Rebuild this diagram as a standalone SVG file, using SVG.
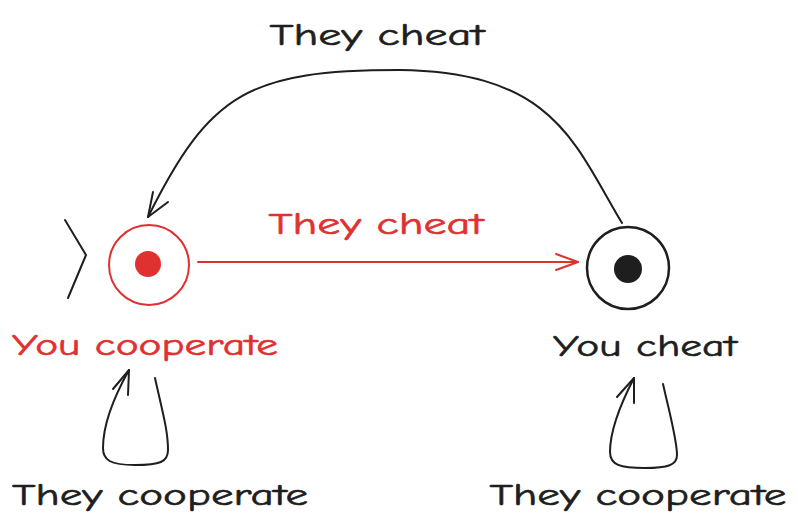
<svg xmlns="http://www.w3.org/2000/svg" width="798" height="529" viewBox="0 0 798 529">
  <style>
    .lbl { font-family: "Comic Neue", "Open Sans", "Liberation Sans", sans-serif; font-size: 31px; text-anchor: middle; stroke-width: 0.6px; }
    .red { fill: #e03131; stroke: #e03131; }
    .ink { fill: #1e1e1e; stroke: #1e1e1e; }
    .edge { fill: none; stroke-width: 2; stroke-linecap: round; stroke-linejoin: round; }
  </style>
  <rect width="798" height="529" fill="#ffffff"/>

  <!-- start marker -->
  <g id="start">
    <polyline class="edge" stroke="#1e1e1e" stroke-width="3" points="65,220 86,255 68,298"/>
  </g>

  <!-- state: you cooperate -->
  <g id="cooperate">
    <circle cx="149" cy="265" r="40" fill="none" stroke="#e03131" stroke-width="2"/>
    <circle cx="148" cy="264" r="13" fill="#e03131"/>
    <text class="lbl red" x="145" y="355" textLength="266" lengthAdjust="spacingAndGlyphs">You cooperate</text>
  </g>

  <!-- state: you cheat -->
  <g id="cheat">
    <circle cx="628" cy="268" r="41" fill="none" stroke="#1e1e1e" stroke-width="2.5"/>
    <circle cx="628" cy="269" r="14" fill="#1e1e1e"/>
    <text class="lbl ink" x="645" y="356" textLength="184" lengthAdjust="spacingAndGlyphs">You cheat</text>
  </g>

  <g id="connectors">
    <!-- cooperate -> cheat -->
    <path class="edge" stroke="#e03131" d="M198,262 L578,262"/>
    <path class="edge" stroke="#e03131" d="M556,254 L578,262 L556,270"/>
    <text class="lbl red" x="376" y="234" textLength="215" lengthAdjust="spacingAndGlyphs">They cheat</text>

    <!-- cheat -> cooperate -->
    <path class="edge" stroke="#1e1e1e" d="M622,223 C575,145 555,72 400,70 C250,70 210,92 148,217"/>
    <path class="edge" stroke="#1e1e1e" d="M153,192 L148,217 L168,202"/>
    <text class="lbl ink" x="377" y="45" textLength="215" lengthAdjust="spacingAndGlyphs">They cheat</text>

    <!-- self loop on cooperate -->
    <path class="edge" stroke="#1e1e1e" stroke-width="2.5" d="M155,378 C162,410 168,430 168,450 C168,462 160,465 135,465 C110,465 103,460 103,448 C103,425 115,395 129,370"/>
    <path class="edge" stroke="#1e1e1e" stroke-width="2.5" d="M113,389 L129,370 L128,395"/>
    <text class="lbl ink" x="160" y="505" textLength="296" lengthAdjust="spacingAndGlyphs">They cooperate</text>

    <!-- self loop on cheat -->
    <path class="edge" stroke="#1e1e1e" stroke-width="2.5" d="M663,384 C670,415 677,440 677,455 C677,465 668,468 645,468 C620,468 610,465 610,452 C610,430 620,405 634,378"/>
    <path class="edge" stroke="#1e1e1e" stroke-width="2.5" d="M617,397 L634,378 L634,403"/>
    <text class="lbl ink" x="638" y="505" textLength="297" lengthAdjust="spacingAndGlyphs">They cooperate</text>
  </g>
</svg>
